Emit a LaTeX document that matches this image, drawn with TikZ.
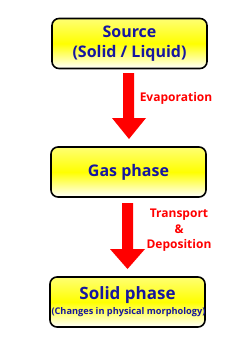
\documentclass[tikz,border=0pt]{standalone}
\usepackage{fontspec}
\setmainfont{Open Sans}
\definecolor{txtblue}{RGB}{22,22,160}
\definecolor{arrred}{RGB}{255,0,0}
\begin{document}
\begin{tikzpicture}[x=1pt,y=-1pt,
  stagebox/.style={draw=black,line width=1.6pt,rounded corners=7pt,
    top color=yellow!55!white,bottom color=white,middle color=yellow,
    minimum width=155pt,minimum height=50pt,text=txtblue,font=\bfseries,align=center,inner sep=0pt},
  flowarrow/.style={fill=arrred,draw=none},
  lbl/.style={text=arrred,font=\bfseries\fontsize{12}{15.5}\selectfont,align=center}]
\useasboundingbox (0,0) rectangle (250,354);
\node[stagebox,font=\bfseries\fontsize{16}{20}\selectfont] (src) at (129.5,43.5) {Source\\(Solid / Liquid)};
\node[stagebox,font=\bfseries\fontsize{16}{20}\selectfont] (gas) at (128.5,172) {Gas phase};
\node[stagebox] (sol) at (127.5,302) {};
\node[text=txtblue,font=\bfseries\fontsize{17}{20}\selectfont,inner sep=0pt] (solt) at (127.5,295) {Solid phase};
\node[text=txtblue,font=\bfseries\fontsize{9.2}{10}\selectfont,inner sep=0pt] (solsub) at (128.5,312.5) {(Changes in physical morphology)};
\fill[flowarrow] (123,73) -- (134,73) -- (134,118) -- (146,118) -- (129,139) -- (112,118) -- (123,118) -- cycle;
\fill[flowarrow] (122,203) -- (133,203) -- (133,249) -- (145,249) -- (127.5,269) -- (110,249) -- (122,249) -- cycle;
\node[lbl] (ev) at (176,98) {Evaporation};
\node[lbl] (tr) at (179,230.5) {Transport\\\&\\Deposition};
\end{tikzpicture}
\end{document}
